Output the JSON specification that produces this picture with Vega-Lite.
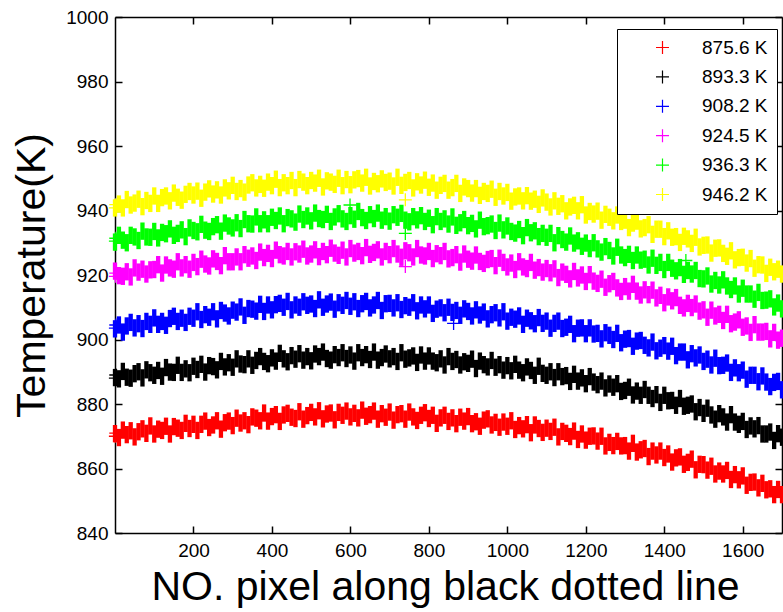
{
"$schema": "https://vega.github.io/schema/vega-lite/v6.json",
"width": 667, "height": 516,
"autosize": {"type": "none"},
"padding": {"left": 115, "top": 17, "right": 1, "bottom": 79},
"background": "white",
"config": {"view": {"stroke": null}, "font": "Liberation Sans"},
"datasets": {
"main": [
{"x":0,"a":870.8,"b":888.2,"c":903.3,"d":921.2,"e":930.2,"f":940.8},
{"x":10,"a":869.6,"b":887.8,"c":904.5,"d":919.8,"e":932.3,"f":942.0},
{"x":20,"a":871.9,"b":890.1,"c":902.3,"d":919.6,"e":930.8,"f":940.8},
{"x":30,"a":870.5,"b":888.3,"c":904.2,"d":921.0,"e":930.0,"f":943.4},
{"x":40,"a":871.7,"b":888.0,"c":905.3,"d":919.4,"e":932.3,"f":941.7},
{"x":50,"a":869.8,"b":889.4,"c":903.6,"d":922.2,"e":931.8,"f":942.3},
{"x":60,"a":871.4,"b":890.0,"c":904.9,"d":920.9,"e":930.7,"f":943.5},
{"x":70,"a":872.3,"b":888.1,"c":903.4,"d":921.8,"e":933.6,"f":941.2},
{"x":80,"a":870.9,"b":890.6,"c":905.6,"d":920.3,"e":931.8,"f":943.1},
{"x":90,"a":873.2,"b":889.7,"c":904.7,"d":921.6,"e":931.7,"f":942.2},
{"x":100,"a":870.7,"b":888.9,"c":906.7,"d":921.7,"e":933.5,"f":944.5},
{"x":110,"a":872.2,"b":890.4,"c":904.7,"d":923.2,"e":931.5,"f":942.2},
{"x":120,"a":871.8,"b":888.6,"c":905.6,"d":920.6,"e":933.2,"f":944.0},
{"x":130,"a":873.1,"b":891.3,"c":904.4,"d":923.1,"e":932.8,"f":944.5},
{"x":140,"a":870.7,"b":889.9,"c":906.5,"d":922.2,"e":934.3,"f":943.0},
{"x":150,"a":873.0,"b":889.8,"c":907.2,"d":921.8,"e":932.3,"f":945.4},
{"x":160,"a":872.5,"b":892.0,"c":905.6,"d":924.1,"e":932.9,"f":944.1},
{"x":170,"a":871.8,"b":889.8,"c":906.6,"d":922.2,"e":934.0,"f":943.2},
{"x":180,"a":874.0,"b":890.9,"c":905.3,"d":923.2,"e":931.9,"f":945.0},
{"x":190,"a":872.4,"b":889.7,"c":907.2,"d":921.8,"e":934.6,"f":945.9},
{"x":200,"a":873.7,"b":891.7,"c":906.6,"d":923.9,"e":933.8,"f":944.8},
{"x":210,"a":871.8,"b":890.7,"c":908.6,"d":922.6,"e":933.4,"f":946.0},
{"x":220,"a":873.7,"b":892.3,"c":906.2,"d":924.9,"e":935.7,"f":943.8},
{"x":230,"a":874.7,"b":889.9,"c":907.7,"d":923.4,"e":933.9,"f":945.7},
{"x":240,"a":872.7,"b":891.9,"c":906.9,"d":922.8,"e":933.5,"f":946.7},
{"x":250,"a":873.5,"b":891.6,"c":908.6,"d":925.0,"e":935.0,"f":945.1},
{"x":260,"a":874.8,"b":890.6,"c":906.4,"d":924.2,"e":935.6,"f":946.4},
{"x":270,"a":872.2,"b":893.2,"c":909.0,"d":922.9,"e":933.6,"f":944.8},
{"x":280,"a":874.2,"b":891.5,"c":908.2,"d":926.0,"e":936.1,"f":947.0},
{"x":290,"a":874.7,"b":892.8,"c":907.3,"d":924.1,"e":935.2,"f":946.1},
{"x":300,"a":873.3,"b":891.4,"c":909.1,"d":924.1,"e":934.6,"f":947.8},
{"x":310,"a":875.6,"b":894.0,"c":908.5,"d":925.6,"e":936.2,"f":945.9},
{"x":320,"a":874.1,"b":892.4,"c":910.1,"d":924.1,"e":934.4,"f":946.8},
{"x":330,"a":874.8,"b":892.2,"c":907.5,"d":926.3,"e":937.2,"f":945.7},
{"x":340,"a":873.6,"b":894.0,"c":909.6,"d":925.2,"e":935.9,"f":947.9},
{"x":350,"a":876.0,"b":892.0,"c":909.4,"d":925.9,"e":935.8,"f":948.6},
{"x":360,"a":875.6,"b":893.5,"c":908.8,"d":924.5,"e":938.0,"f":947.0},
{"x":370,"a":874.8,"b":894.7,"c":910.9,"d":927.1,"e":935.9,"f":948.1},
{"x":380,"a":877.2,"b":893.2,"c":908.7,"d":925.4,"e":937.1,"f":946.9},
{"x":390,"a":874.7,"b":892.5,"c":910.7,"d":926.7,"e":935.9,"f":948.8},
{"x":400,"a":876.1,"b":894.3,"c":909.2,"d":925.1,"e":937.9,"f":947.7},
{"x":410,"a":876.7,"b":893.3,"c":910.8,"d":927.7,"e":936.9,"f":949.7},
{"x":420,"a":874.6,"b":895.7,"c":911.2,"d":926.3,"e":938.3,"f":947.1},
{"x":430,"a":876.6,"b":894.0,"c":910.0,"d":925.9,"e":935.9,"f":948.6},
{"x":440,"a":877.1,"b":893.1,"c":911.8,"d":927.3,"e":937.8,"f":947.7},
{"x":450,"a":875.9,"b":895.0,"c":909.2,"d":925.6,"e":937.4,"f":949.3},
{"x":460,"a":875.5,"b":893.9,"c":910.7,"d":927.2,"e":936.4,"f":947.1},
{"x":470,"a":877.6,"b":895.6,"c":910.0,"d":926.5,"e":938.9,"f":949.6},
{"x":480,"a":875.3,"b":893.6,"c":911.7,"d":928.0,"e":937.2,"f":948.8},
{"x":490,"a":876.4,"b":894.7,"c":910.6,"d":925.9,"e":938.3,"f":947.7},
{"x":500,"a":877.4,"b":893.4,"c":911.0,"d":926.5,"e":936.8,"f":949.3},
{"x":510,"a":876.0,"b":895.5,"c":909.6,"d":927.8,"e":939.2,"f":948.5},
{"x":520,"a":877.9,"b":894.7,"c":912.3,"d":925.7,"e":937.5,"f":950.0},
{"x":530,"a":875.4,"b":896.1,"c":910.0,"d":927.3,"e":937.2,"f":947.3},
{"x":540,"a":876.9,"b":894.1,"c":911.0,"d":926.3,"e":938.8,"f":949.2},
{"x":550,"a":877.2,"b":893.6,"c":911.6,"d":928.3,"e":936.6,"f":948.8},
{"x":560,"a":875.1,"b":895.3,"c":909.4,"d":926.8,"e":938.0,"f":948.1},
{"x":570,"a":877.4,"b":894.4,"c":911.4,"d":926.1,"e":939.0,"f":950.0},
{"x":580,"a":876.5,"b":895.9,"c":910.6,"d":927.7,"e":937.4,"f":947.7},
{"x":590,"a":877.8,"b":894.1,"c":912.1,"d":925.6,"e":936.6,"f":949.6},
{"x":600,"a":876.0,"b":895.2,"c":910.3,"d":928.2,"e":938.4,"f":948.0},
{"x":610,"a":877.1,"b":893.3,"c":911.7,"d":926.8,"e":937.3,"f":949.5},
{"x":620,"a":875.7,"b":895.9,"c":909.6,"d":927.3,"e":939.7,"f":949.9},
{"x":630,"a":878.1,"b":894.4,"c":911.1,"d":926.0,"e":937.8,"f":948.5},
{"x":640,"a":876.2,"b":895.3,"c":911.8,"d":928.5,"e":936.9,"f":950.3},
{"x":650,"a":876.7,"b":893.8,"c":909.8,"d":926.4,"e":938.7,"f":947.6},
{"x":660,"a":877.8,"b":896.1,"c":910.7,"d":927.0,"e":937.5,"f":949.0},
{"x":670,"a":875.3,"b":893.6,"c":912.1,"d":927.8,"e":939.2,"f":948.3},
{"x":680,"a":877.0,"b":894.4,"c":909.0,"d":925.6,"e":937.0,"f":949.8},
{"x":690,"a":875.9,"b":895.5,"c":911.1,"d":927.3,"e":938.1,"f":948.7},
{"x":700,"a":877.5,"b":894.0,"c":911.2,"d":926.3,"e":936.7,"f":949.1},
{"x":710,"a":875.0,"b":894.7,"c":909.8,"d":928.2,"e":938.7,"f":947.6},
{"x":720,"a":876.7,"b":893.2,"c":911.4,"d":926.5,"e":937.9,"f":950.3},
{"x":730,"a":877.0,"b":895.9,"c":909.3,"d":925.5,"e":939.1,"f":947.8},
{"x":740,"a":875.3,"b":893.9,"c":910.5,"d":927.5,"e":937.0,"f":948.7},
{"x":750,"a":877.5,"b":894.3,"c":910.0,"d":926.9,"e":936.5,"f":949.3},
{"x":760,"a":876.0,"b":894.9,"c":911.4,"d":925.6,"e":938.1,"f":947.0},
{"x":770,"a":874.9,"b":892.9,"c":908.9,"d":928.2,"e":937.1,"f":948.9},
{"x":780,"a":876.5,"b":895.2,"c":910.7,"d":926.2,"e":938.4,"f":947.9},
{"x":790,"a":877.3,"b":893.3,"c":909.5,"d":925.9,"e":936.6,"f":949.4},
{"x":800,"a":875.5,"b":894.9,"c":910.7,"d":927.3,"e":937.6,"f":947.2},
{"x":810,"a":876.5,"b":893.3,"c":908.1,"d":925.1,"e":935.6,"f":948.5},
{"x":820,"a":874.0,"b":892.8,"c":909.4,"d":926.6,"e":938.1,"f":946.3},
{"x":830,"a":875.7,"b":894.0,"c":909.8,"d":926.0,"e":936.6,"f":947.8},
{"x":840,"a":876.5,"b":892.1,"c":908.3,"d":927.3,"e":937.4,"f":948.4},
{"x":850,"a":874.6,"b":894.7,"c":910.0,"d":925.0,"e":935.8,"f":946.3},
{"x":860,"a":875.7,"b":893.2,"c":908.4,"d":925.4,"e":938.0,"f":947.1},
{"x":870,"a":873.9,"b":893.8,"c":909.0,"d":926.3,"e":935.4,"f":948.4},
{"x":880,"a":875.9,"b":892.1,"c":907.5,"d":924.0,"e":936.2,"f":945.3},
{"x":890,"a":874.7,"b":893.1,"c":909.5,"d":926.5,"e":937.2,"f":947.3},
{"x":900,"a":876.1,"b":892.6,"c":908.7,"d":924.9,"e":935.3,"f":946.8},
{"x":910,"a":873.9,"b":893.9,"c":907.3,"d":924.3,"e":936.0,"f":945.4},
{"x":920,"a":874.5,"b":891.0,"c":909.2,"d":926.2,"e":934.3,"f":946.8},
{"x":930,"a":873.1,"b":893.3,"c":907.6,"d":924.2,"e":937.0,"f":944.7},
{"x":940,"a":875.0,"b":892.2,"c":908.5,"d":923.6,"e":935.0,"f":945.9},
{"x":950,"a":875.4,"b":891.5,"c":906.4,"d":924.8,"e":935.3,"f":945.3},
{"x":960,"a":873.5,"b":893.5,"c":907.7,"d":925.1,"e":935.8,"f":946.6},
{"x":970,"a":874.3,"b":891.4,"c":908.3,"d":922.9,"e":933.8,"f":944.1},
{"x":980,"a":872.8,"b":892.2,"c":906.7,"d":925.2,"e":936.1,"f":945.9},
{"x":990,"a":874.4,"b":890.5,"c":908.6,"d":923.9,"e":934.0,"f":944.5},
{"x":1000,"a":873.1,"b":891.9,"c":905.7,"d":922.5,"e":935.2,"f":945.6},
{"x":1010,"a":874.8,"b":890.3,"c":906.9,"d":923.7,"e":933.5,"f":942.9},
{"x":1020,"a":872.1,"b":892.3,"c":906.3,"d":921.7,"e":933.0,"f":944.2},
{"x":1030,"a":873.3,"b":890.5,"c":907.3,"d":924.1,"e":934.1,"f":944.5},
{"x":1040,"a":872.3,"b":889.7,"c":904.7,"d":922.5,"e":932.2,"f":943.0},
{"x":1050,"a":873.6,"b":891.5,"c":906.6,"d":922.0,"e":934.7,"f":944.6},
{"x":1060,"a":871.1,"b":890.4,"c":905.8,"d":923.9,"e":933.1,"f":942.9},
{"x":1070,"a":873.5,"b":888.9,"c":904.9,"d":921.5,"e":933.7,"f":943.5},
{"x":1080,"a":872.4,"b":891.7,"c":906.8,"d":922.3,"e":931.9,"f":941.9},
{"x":1090,"a":871.2,"b":889.5,"c":905.0,"d":920.9,"e":932.9,"f":943.9},
{"x":1100,"a":872.5,"b":888.9,"c":905.7,"d":922.0,"e":931.7,"f":942.6},
{"x":1110,"a":871.5,"b":890.0,"c":903.5,"d":920.7,"e":932.9,"f":941.1},
{"x":1120,"a":872.8,"b":888.2,"c":905.0,"d":921.9,"e":930.0,"f":943.0},
{"x":1130,"a":869.8,"b":890.0,"c":905.7,"d":919.2,"e":932.2,"f":941.3},
{"x":1140,"a":871.5,"b":888.5,"c":903.4,"d":920.9,"e":931.0,"f":942.1},
{"x":1150,"a":870.9,"b":888.8,"c":903.8,"d":920.2,"e":930.2,"f":939.9},
{"x":1160,"a":869.9,"b":887.0,"c":904.7,"d":918.8,"e":932.1,"f":941.1},
{"x":1170,"a":871.6,"b":889.2,"c":901.8,"d":921.1,"e":929.9,"f":941.6},
{"x":1180,"a":869.0,"b":887.1,"c":903.5,"d":919.1,"e":930.6,"f":939.9},
{"x":1190,"a":870.7,"b":888.1,"c":903.6,"d":920.0,"e":928.9,"f":941.8},
{"x":1200,"a":868.8,"b":886.3,"c":901.8,"d":918.0,"e":929.9,"f":938.6},
{"x":1210,"a":870.0,"b":888.5,"c":903.6,"d":920.1,"e":928.2,"f":939.7},
{"x":1220,"a":870.1,"b":886.8,"c":901.7,"d":918.1,"e":930.0,"f":938.9},
{"x":1230,"a":868.5,"b":886.0,"c":901.9,"d":917.4,"e":928.1,"f":939.8},
{"x":1240,"a":870.0,"b":887.1,"c":900.2,"d":918.7,"e":927.1,"f":937.0},
{"x":1250,"a":867.0,"b":885.0,"c":902.1,"d":916.2,"e":928.8,"f":938.8},
{"x":1260,"a":868.1,"b":886.2,"c":901.3,"d":917.3,"e":927.6,"f":937.9},
{"x":1270,"a":867.1,"b":885.2,"c":900.0,"d":918.0,"e":925.9,"f":936.8},
{"x":1280,"a":868.4,"b":886.3,"c":901.9,"d":916.0,"e":928.6,"f":938.6},
{"x":1290,"a":867.0,"b":883.9,"c":899.0,"d":914.9,"e":926.2,"f":936.6},
{"x":1300,"a":867.1,"b":884.2,"c":900.1,"d":916.4,"e":925.4,"f":937.0},
{"x":1310,"a":865.4,"b":885.2,"c":900.3,"d":915.0,"e":926.4,"f":934.7},
{"x":1320,"a":867.8,"b":882.8,"c":897.9,"d":917.1,"e":924.5,"f":936.1},
{"x":1330,"a":865.1,"b":884.0,"c":899.5,"d":915.0,"e":926.2,"f":936.7},
{"x":1340,"a":865.8,"b":882.7,"c":899.7,"d":913.8,"e":924.6,"f":934.3},
{"x":1350,"a":866.2,"b":884.5,"c":898.2,"d":915.4,"e":924.9,"f":934.7},
{"x":1360,"a":863.7,"b":882.7,"c":897.4,"d":913.9,"e":923.1,"f":935.6},
{"x":1370,"a":865.4,"b":881.7,"c":899.2,"d":915.3,"e":925.2,"f":932.6},
{"x":1380,"a":864.2,"b":882.9,"c":896.5,"d":912.9,"e":923.0,"f":934.2},
{"x":1390,"a":865.4,"b":880.5,"c":897.3,"d":913.7,"e":923.9,"f":934.2},
{"x":1400,"a":863.4,"b":882.7,"c":898.1,"d":911.4,"e":921.7,"f":931.9},
{"x":1410,"a":864.5,"b":881.0,"c":896.4,"d":913.2,"e":923.9,"f":933.7},
{"x":1420,"a":862.0,"b":881.1,"c":897.9,"d":912.0,"e":922.1,"f":931.7},
{"x":1430,"a":863.3,"b":879.6,"c":895.0,"d":913.0,"e":921.3,"f":931.9},
{"x":1440,"a":863.6,"b":881.7,"c":896.1,"d":910.6,"e":922.3,"f":930.1},
{"x":1450,"a":861.3,"b":879.3,"c":896.1,"d":909.8,"e":920.2,"f":932.0},
{"x":1460,"a":861.9,"b":879.6,"c":893.7,"d":911.2,"e":921.4,"f":931.2},
{"x":1470,"a":862.9,"b":880.0,"c":895.6,"d":909.9,"e":920.3,"f":929.8},
{"x":1480,"a":859.6,"b":877.6,"c":894.3,"d":911.0,"e":921.4,"f":931.7},
{"x":1490,"a":861.3,"b":878.9,"c":895.2,"d":908.8,"e":918.9,"f":928.7},
{"x":1500,"a":861.2,"b":877.1,"c":893.2,"d":909.2,"e":918.8,"f":929.2},
{"x":1510,"a":859.5,"b":878.7,"c":893.9,"d":906.9,"e":919.7,"f":929.3},
{"x":1520,"a":860.7,"b":876.6,"c":892.1,"d":909.1,"e":917.2,"f":926.8},
{"x":1530,"a":858.3,"b":875.3,"c":894.2,"d":907.3,"e":918.3,"f":928.3},
{"x":1540,"a":859.2,"b":877.0,"c":891.9,"d":907.8,"e":916.9,"f":928.4},
{"x":1550,"a":858.3,"b":876.0,"c":892.0,"d":905.9,"e":918.5,"f":926.7},
{"x":1560,"a":859.4,"b":874.4,"c":892.7,"d":907.8,"e":916.6,"f":925.8},
{"x":1570,"a":856.6,"b":876.7,"c":889.8,"d":904.9,"e":915.5,"f":927.5},
{"x":1580,"a":858.1,"b":874.4,"c":891.2,"d":905.4,"e":916.6,"f":924.7},
{"x":1590,"a":856.5,"b":873.7,"c":889.7,"d":906.1,"e":914.1,"f":925.4},
{"x":1600,"a":857.7,"b":874.6,"c":890.5,"d":903.8,"e":915.9,"f":925.5},
{"x":1610,"a":854.8,"b":872.1,"c":887.7,"d":904.2,"e":914.1,"f":923.7},
{"x":1620,"a":855.7,"b":873.2,"c":888.9,"d":902.2,"e":914.1,"f":925.1},
{"x":1630,"a":855.8,"b":872.3,"c":888.9,"d":904.6,"e":912.5,"f":922.1},
{"x":1640,"a":854.0,"b":873.3,"c":886.9,"d":902.3,"e":914.6,"f":923.2},
{"x":1650,"a":855.4,"b":870.7,"c":888.7,"d":902.3,"e":912.1,"f":923.1},
{"x":1660,"a":853.4,"b":870.7,"c":886.8,"d":902.5,"e":912.2,"f":920.5},
{"x":1670,"a":853.7,"b":871.3,"c":885.4,"d":900.2,"e":912.6,"f":922.4},
{"x":1680,"a":851.9,"b":868.7,"c":886.7,"d":902.2,"e":910.1,"f":921.0},
{"x":1690,"a":853.5,"b":870.8,"c":887.0,"d":899.8,"e":911.3,"f":921.8},
{"x":1700,"a":851.9,"b":869.7,"c":884.4,"d":900.4,"e":909.5,"f":920.3}
],
"extra": [
{"s":"a","x":1,"t":870.0},{"s":"a","x":2,"t":871.0},
{"s":"b","x":1,"t":888.0},{"s":"b","x":2,"t":889.0},
{"s":"c","x":1,"t":903.5},{"s":"c","x":2,"t":904.5},
{"s":"d","x":1,"t":919.6},{"s":"d","x":2,"t":920.6},
{"s":"e","x":1,"t":930.5},{"s":"e","x":2,"t":931.4},
{"s":"f","x":1,"t":940.8},{"s":"f","x":2,"t":941.8},
{"s":"e","x":599,"t":941.7},
{"s":"e","x":740,"t":932.9},
{"s":"d","x":740,"t":922.6},
{"s":"f","x":740,"t":943.3},
{"s":"c","x":863,"t":905.0},
{"s":"e","x":1455,"t":924.5}
]
},
"layer": [
{
"data": {"name": "main"},
"transform": [{"fold": ["a","b","c","d","e","f"], "as": ["s","t"]}],
"mark": {"type": "point", "shape": "M0,-1L0,1", "filled": false, "size": 300, "strokeWidth": 4.3, "opacity": 1},
"encoding": {
"x": {"field": "x", "type": "quantitative",
 "scale": {"domain": [0,1700], "nice": false, "zero": false},
 "axis": {"orient": "bottom", "values": [200,400,600,800,1000,1200,1400,1600], "format": "d", "grid": false,
  "domainColor": "#000", "domainWidth": 1.5, "tickColor": "#000", "tickWidth": 1.5, "tickSize": -7,
  "labelFontSize": 19, "labelColor": "#000", "labelPadding": 15.6, "labelFlush": false, "labelOverlap": false,
  "title": "NO. pixel along black dotted line", "titleFontSize": 41, "titleFontWeight": "normal", "titleColor": "#000",
  "titleX": 330, "titleY": 66.5, "titleBaseline": "alphabetic", "titleAlign": "center"}},
"y": {"field": "t", "type": "quantitative",
 "scale": {"domain": [840,1000], "nice": false, "zero": false},
 "axis": {"orient": "left", "values": [840,860,880,900,920,940,960,980,1000], "format": "d", "grid": false,
  "domainColor": "#000", "domainWidth": 1.5, "tickColor": "#000", "tickWidth": 1.5, "tickSize": -7,
  "labelFontSize": 19, "labelColor": "#000", "labelPadding": 14, "labelOverlap": false,
  "title": "Temperature(K)", "titleFontSize": 41, "titleFontWeight": "normal", "titleColor": "#000",
  "titleAngle": -90, "titleX": -70.5, "titleY": 258, "titleBaseline": "alphabetic", "titleAlign": "center"}},
"color": {"field": "s", "type": "nominal",
 "scale": {"domain": ["a","b","c","d","e","f"], "range": ["#ff0000","#000000","#0000ff","#ff00ff","#00ff00","#ffff00"]},
 "legend": {"orient": "none", "legendX": 502, "legendY": 12, "title": null, "padding": 9,
  "strokeColor": "#000", "fillColor": "#fff",
  "symbolType": "M-1,0L1,0M0,-1L0,1", "symbolSize": 169, "symbolStrokeWidth": 1.2, "symbolOpacity": 1,
  "symbolOffset": 27, "labelOffset": 30, "rowPadding": 9.4,
  "labelFontSize": 19, "labelColor": "#000",
  "labelExpr": "{'a':'875.6 K','b':'893.3 K','c':'908.2 K','d':'924.5 K','e':'936.3 K','f':'946.2 K'}[datum.label]"}}
}
},
{
"data": {"name": "extra"},
"mark": {"type": "point", "shape": "M-1,0L1,0M0,-1L0,1", "filled": false, "size": 169, "strokeWidth": 1.3, "opacity": 1},
"encoding": {
"x": {"field": "x", "type": "quantitative",
 "axis": {"orient": "top", "values": [200,400,600,800,1000,1200,1400,1600], "grid": false, "labels": false, "title": null,
  "domainColor": "#000", "domainWidth": 1.5, "tickColor": "#000", "tickWidth": 1.5, "tickSize": -7}},
"y": {"field": "t", "type": "quantitative",
 "axis": {"orient": "right", "values": [840,860,880,900,920,940,960,980,1000], "grid": false, "labels": false, "title": null,
  "domainColor": "#000", "domainWidth": 1.5, "tickColor": "#000", "tickWidth": 1.5, "tickSize": -7}},
"color": {"field": "s", "type": "nominal"}
}
}
],
"resolve": {"axis": {"x": "independent", "y": "independent"}}
}
